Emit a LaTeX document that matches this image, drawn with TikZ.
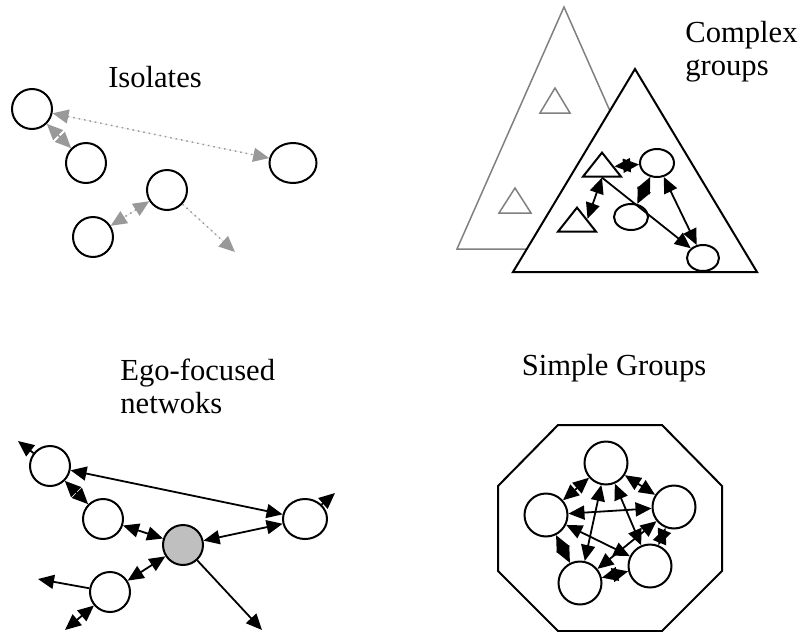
\documentclass[tikz,border=0pt]{standalone}
\usepackage{fontspec}
\setmainfont{Liberation Serif}
\usetikzlibrary{arrows.meta,shapes.geometric}
\tikzset{
  >={Triangle[length=8pt,width=7pt]},
  actor/.style={circle, draw, line width=1pt, minimum size=20pt, inner sep=0pt},
  oval/.style={ellipse, draw, line width=1pt, inner sep=0pt},
  ctri/.style={isosceles triangle, isosceles triangle stretches, shape border rotate=90,
    draw, line width=1pt, inner sep=0pt, minimum width=19pt, minimum height=12pt},
  tie/.style={line width=0.9pt},
  weaktie/.style={draw=gray!80, fill=gray!80, line width=0.75pt},
  label/.style={inner sep=0pt}
}
\begin{document}
\begin{tikzpicture}[x=0.5pt,y=-0.5pt,font=\fontsize{15.3}{16.5}\selectfont]
\useasboundingbox (0,0) rectangle (804,632);
%
% isolates
\node[label, anchor=base] (tIso) at (155,87) {Isolates};
\node[actor] (i1) at (32,109) {};
\node[actor] (i2) at (86,163) {};
\node[oval, minimum width=23.5pt, minimum height=20pt] (i3) at (293,163) {};
\node[actor] (i4) at (167,190) {};
\node[actor] (i5) at (93,237) {};
\coordinate (i6) at (235,252);
\draw[weaktie, <->] (i1) -- (i2);
\draw[weaktie, dotted, <->] (i1) -- (i3);
\draw[weaktie, dotted, <->] (i4) -- (i5);
\draw[weaktie, dotted, ->] (i4) -- (i6);
%
% complex groups
\node[label, anchor=north west, align=left] (tCom) at (685,21) {Complex\\groups};
\draw[gray, line width=0.75pt] (564,7) -- (457,249) -- (671,249) -- cycle;
\draw[gray, line width=0.75pt] (555,88) -- (540,113) -- (570,113) -- cycle;
\draw[gray, line width=0.75pt] (515,188) -- (499,213) -- (531,213) -- cycle;
\draw[fill=white, line width=1pt] (635,69) -- (513,272) -- (757,272) -- cycle;
\node[ctri, anchor=apex] (c1) at (602,150) {};
\node[ctri, anchor=apex] (c2) at (577,205) {};
\node[oval, minimum width=17pt, minimum height=14pt] (c3) at (657,163) {};
\node[oval, minimum width=17pt, minimum height=13pt] (c4) at (631,217) {};
\node[oval, minimum width=16pt, minimum height=13pt] (c5) at (703,258) {};
\draw[tie, <->] (c1) -- (c3);
\draw[tie, <->] (c1.lower side) -- (c2.right side);
\draw[tie, <->] (c3) -- (c4);
\draw[tie, <->] (c3) -- (c5);
\draw[tie, ->] (c1.lower side) -- (c5);
%
% ego-focused networks
\node[label, anchor=north west, align=left] (tEgo) at (120,359) {Ego-focused\\netwoks};
\node[actor] (e1) at (50,466) {};
\node[actor] (e2) at (103,519) {};
\node[actor, fill=gray!50] (e0) at (183,545) {};
\node[oval, minimum width=22pt, minimum height=20pt] (e3) at (305,519) {};
\node[actor] (e4) at (110,592) {};
\coordinate (o1) at (18,441);
\coordinate (o3) at (335,493);
\coordinate (o0) at (262,630);
\coordinate (o4) at (38,579);
\coordinate (o5) at (65,630);
\draw[tie, ->] (e1) -- (o1);
\draw[tie, <->] (e1) -- (e3);
\draw[tie, <->] (e1) -- (e2);
\draw[tie, <->] (e2) -- (e0);
\draw[tie, <->] (e0) -- (e3);
\draw[tie, ->] (e3) -- (o3);
\draw[tie, <->] (e0) -- (e4);
\draw[tie, ->] (e0) -- (o0);
\draw[tie, ->] (e4) -- (o4);
\draw[tie, <->] (e4) -- (o5);
%
% simple groups
\node[label, anchor=base] (tSim) at (614,375) {Simple Groups};
\draw[line width=1pt] (558,425) -- (662,425) -- (722,486) -- (722,571)
  -- (662,631) -- (558,631) -- (498,571) -- (498,486) -- cycle;
\foreach \n/\x/\y in {1/606/463, 2/546/515, 3/674/507, 4/650/566, 5/580/583}
  \node[actor, minimum size=21.5pt] (s\n) at (\x,\y) {};
\foreach \a/\b in {1/2,1/3,1/4,1/5,2/3,2/4,2/5,3/4,3/5,4/5}
  \draw[tie, <->] (s\a) -- (s\b);
\end{tikzpicture}
\end{document}
